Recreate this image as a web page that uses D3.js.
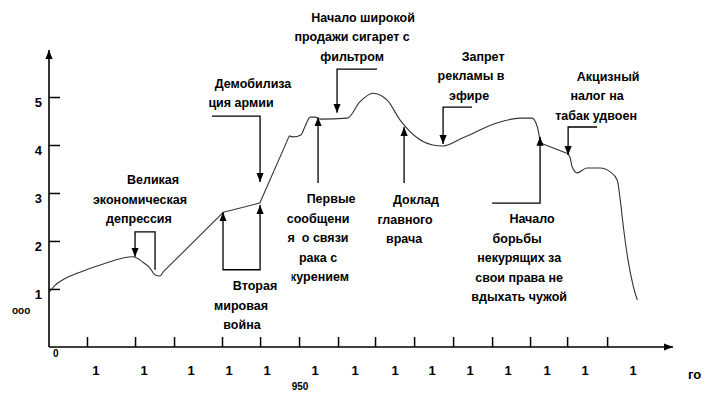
<!DOCTYPE html>
<html>
<head>
<meta charset="utf-8">
<script src="https://cdn.jsdelivr.net/npm/d3@7"></script>
<style>
  body { margin: 0; background: #fff; }
  svg text { font-family: "Liberation Sans", Arial, sans-serif; font-weight: bold; font-size: 12.5px; fill: #000; }
</style>
</head>
<body>
<div id="chart"></div>
<script>
// consumption curve (years, thousands per person)
var years = [1920.06, 1920.8, 1921.8, 1924.0, 1927.0, 1930.8, 1932.1, 1933.0, 1933.7, 1934.3, 1934.7,
  1942.5, 1947.2, 1951.0, 1951.5, 1952.5, 1953.0, 1953.7, 1954.3, 1955.0, 1958.5, 1960.1, 1961.8,
  1963.6, 1965.3, 1967.5, 1969.5, 1970.8, 1973.4, 1977.8, 1980.8, 1982.3, 1983.0, 1983.4, 1986.8,
  1987.2, 1987.5, 1988.1, 1989.4, 1991.1, 1992.4, 1993.3, 1993.7, 1994.1, 1994.7, 1995.4, 1995.9];
var values = [0.94, 1.08, 1.19, 1.35, 1.52, 1.67, 1.56, 1.44, 1.29, 1.27, 1.35,
  2.60, 2.79, 4.19, 4.17, 4.21, 4.375, 4.58, 4.58, 4.54, 4.56, 4.90, 5.08,
  4.94, 4.52, 4.15, 4.0, 3.98, 4.15, 4.46, 4.56, 4.56, 4.375, 4.04, 3.83,
  3.75, 3.54, 3.42, 3.52, 3.52, 3.44, 3.27, 2.85, 2.29, 1.60, 1.04, 0.77];
// index spans of the curve drawn as straight strokes
var straightSpans = [[10, 13], [33, 34]];

var yTicks = [1, 2, 3, 4, 5];
var xTickYears = [1924.9, 1931.1, 1936.13, 1942.32, 1947.23, 1952.26, 1957.29, 1962.06,
  1967.1, 1972.13, 1977.16, 1982.06, 1986.84, 1992.0];
var xLabelYears = [1926.06, 1932.26, 1938.32, 1943.23, 1948.13, 1954.32, 1959.48, 1964.65,
  1969.42, 1974.32, 1979.23, 1984.26, 1989.16, 1995.35];
var xLabels = ["1", "1", "1", "1", "1", "1", "1", "1", "1", "1", "1", "1", "1", "1"];

// event notes: [text, centre year, left clip year], v = value of first line
var notes = [
  {v: 6.667, lines: [["Начало широкой", 1960.52], ["продажи сигарет с", 1959.1], ["фильтром", 1959.1]]},
  {v: 5.292, lines: [["Демобилиза", 1946.32], ["ция армии", 1944.77]]},
  {v: 3.271, lines: [["Великая", 1933.42], ["экономическая", 1931.74], ["депрессия", 1931.61]]},
  {v: 1.062, lines: [["Вторая", 1946.58], ["мировая", 1944.77], ["война", 1944.9]]},
  {v: 2.875, lines: [["Первые", 1956.39], ["сообщени", 1954.71], ["я  о связи", 1954.71], ["рака с", 1954.71], ["курением", 1954.9, 1951.3]]},
  {v: 2.854, lines: [["Доклад", 1967.35], ["главного", 1965.94], ["врача", 1965.81]]},
  {v: 5.854, lines: [["Запрет", 1976.0], ["рекламы в", 1974.45], ["эфире", 1974.19]]},
  {v: 5.437, lines: [["Акцизный", 1992.13], ["налог на", 1990.71], ["табак удвоен", 1990.58]]},
  {v: 2.458, lines: [["Начало", 1982.32], ["борьбы", 1980.39], ["некурящих за", 1980.65], ["свои права не", 1980.65], ["вдыхать чужой", 1980.65]]}
];

// pointer lines, arrow head at the last point (both: also at the first)
var arrows = [
  {pts: [[1933.68, 1.40], [1933.68, 2.19], [1931.10, 2.19], [1931.10, 1.67]]},
  {pts: [[1942.45, 2.60], [1942.45, 1.40], [1947.23, 1.40], [1947.23, 2.75]], both: true},
  {pts: [[1941.03, 4.60], [1947.23, 4.60], [1947.23, 3.23]]},
  {pts: [[1962.32, 5.58], [1957.16, 5.58], [1957.16, 4.67]]},
  {pts: [[1954.71, 3.21], [1954.71, 4.58]]},
  {pts: [[1965.81, 3.21], [1965.81, 4.375]]},
  {pts: [[1974.58, 4.79], [1970.84, 4.79], [1970.84, 4.02]]},
  {pts: [[1977.16, 2.79], [1983.35, 2.79], [1983.35, 4.17]]},
  {pts: [[1990.71, 4.375], [1986.97, 4.375], [1986.97, 3.79]]}
];

var W = 724, H = 397;
var svg = d3.select("#chart").append("svg").attr("width", W).attr("height", H);

var x = d3.scaleLinear().domain([1920, 2000.5]).range([49, 673]);
var y = d3.scaleLinear().domain([-0.21, 5.98]).range([347, 50]);

var defs = svg.append("defs");
defs.append("marker")
  .attr("id", "head")
  .attr("viewBox", "0 -4 9 8")
  .attr("refX", 9).attr("refY", 0)
  .attr("markerUnits", "userSpaceOnUse")
  .attr("markerWidth", 9).attr("markerHeight", 8)
  .attr("orient", "auto-start-reverse")
  .append("path").attr("d", "M0,-3.6L9,0L0,3.6Z").attr("fill", "#000");

// axes lines with arrow heads
svg.append("line")
  .attr("x1", x.range()[0]).attr("y1", y.range()[0])
  .attr("x2", x.range()[0]).attr("y2", y.range()[1])
  .attr("stroke", "#000").attr("stroke-width", 1.6)
  .attr("marker-end", "url(#head)");
svg.append("line")
  .attr("x1", x.range()[0]).attr("y1", y.range()[0])
  .attr("x2", x.range()[1]).attr("y2", y.range()[0])
  .attr("stroke", "#000").attr("stroke-width", 1.6)
  .attr("marker-end", "url(#head)");

// y ticks
var yAxis = svg.append("g")
  .attr("transform", "translate(" + x.range()[0] + ",0)")
  .call(d3.axisLeft(y).tickValues(yTicks).tickFormat(d3.format("d"))
    .tickSize(-11).tickPadding(7).tickSizeOuter(0));
yAxis.select(".domain").remove();
yAxis.selectAll("line").attr("stroke", "#000").attr("stroke-width", 1.5);
yAxis.selectAll("text")
  .attr("dy", "0.7em")
  .style("font-family", "'Liberation Sans', Arial, sans-serif")
  .style("font-weight", "bold").style("font-size", "13px");

// x ticks
var xAxis = svg.append("g")
  .attr("transform", "translate(0," + y.range()[0] + ")")
  .call(d3.axisBottom(x).tickValues(xTickYears).tickSize(-10).tickFormat("").tickSizeOuter(0));
xAxis.select(".domain").remove();
xAxis.selectAll("line").attr("stroke", "#000").attr("stroke-width", 1.5);

svg.append("g").selectAll("text")
  .data(xLabels)
  .join("text")
  .attr("x", function(d, i) { return x(xLabelYears[i]); })
  .attr("y", 375)
  .attr("text-anchor", "middle")
  .style("font-size", "13px")
  .text(function(d) { return d; });

// leftovers of clipped captions
svg.append("text").attr("x", 300).attr("y", 390).attr("text-anchor", "middle")
  .style("font-size", "10px").text("950");
svg.append("text").attr("x", 688).attr("y", 379).style("font-size", "13px").text("го");
svg.append("text").attr("x", 12).attr("y", 314).style("font-size", "10px").text("ооо");
svg.append("text").attr("x", 53).attr("y", 357).style("font-size", "10px").text("0");

// curve: smooth pieces joined by straight strokes
var pts = years.map(function(d, i) { return [d, values[i]]; });
var pieces = [], start = 0;
straightSpans.forEach(function(s) {
  pieces.push({d: pts.slice(start, s[0] + 1), curve: d3.curveMonotoneX});
  pieces.push({d: pts.slice(s[0], s[1] + 1), curve: d3.curveLinear});
  start = s[1];
});
pieces.push({d: pts.slice(start), curve: d3.curveMonotoneX});

svg.append("g").selectAll("path")
  .data(pieces)
  .join("path")
  .attr("d", function(p) {
    return d3.line()
      .x(function(d) { return x(d[0]); })
      .y(function(d) { return y(d[1]); })
      .curve(p.curve)(p.d);
  })
  .attr("fill", "none")
  .attr("stroke", "#333")
  .attr("stroke-width", 1.1)
  .attr("stroke-linejoin", "round");

// pointers
var straight = d3.line().x(function(d) { return x(d[0]); }).y(function(d) { return y(d[1]); });
svg.append("g").selectAll("path")
  .data(arrows)
  .join("path")
  .attr("d", function(d) { return straight(d.pts); })
  .attr("fill", "none")
  .attr("stroke", "#000")
  .attr("stroke-width", 1.3)
  .attr("marker-end", "url(#head)")
  .attr("marker-start", function(d) { return d.both ? "url(#head)" : null; });

// note texts
var lineGap = 19.5, clipCount = 0;
notes.forEach(function(n) {
  var g = svg.append("g");
  n.lines.forEach(function(d, i) {
    var t = g.append("text")
      .attr("x", x(d[1]))
      .attr("y", y(n.v) + 4.5 + i * lineGap)
      .attr("text-anchor", "middle")
      .attr("xml:space", "preserve")
      .text(d[0]);
    if (d[2] !== undefined) {
      var id = "clip" + (clipCount++);
      defs.append("clipPath").attr("id", id)
        .append("rect").attr("x", x(d[2])).attr("y", 0).attr("width", 200).attr("height", H);
      t.attr("clip-path", "url(#" + id + ")");
    }
  });
});
</script>
</body>
</html>
